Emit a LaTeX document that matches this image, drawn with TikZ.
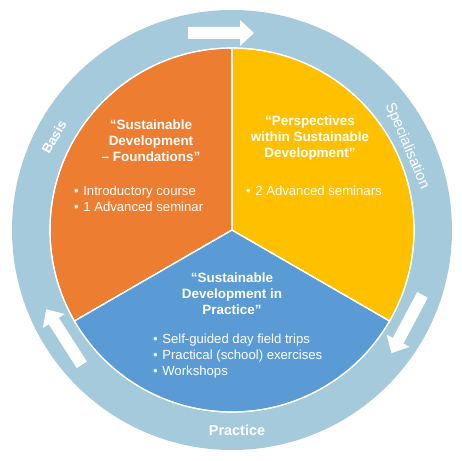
\documentclass[tikz,border=0pt]{standalone}
\usepackage{fontspec}
\setmainfont{Liberation Sans}
\usetikzlibrary{calc}

\definecolor{ringblue}{HTML}{A5CADB}
\definecolor{orangeseg}{HTML}{ED7D31}
\definecolor{yellowseg}{HTML}{FFC000}
\definecolor{blueseg}{HTML}{5B9BD5}

\begin{document}
\begin{tikzpicture}[x=1bp, y=1bp,
	title/.style={text=white, font=\fontsize{13.5}{16}\selectfont\bfseries, align=center},
	items/.style={text=white, font=\fontsize{13.2}{15.7}\selectfont, align=left, anchor=west, inner sep=0pt},
	ringlabel/.style={text=white, font=\fontsize{13.5}{15}\selectfont\bfseries},
	segment/.style={draw=white, line width=1.2bp}]
		\useasboundingbox (-232,-231) rectangle (229,230);

		\fill[ringblue] (0,0) circle (220);
		\fill[segment, fill=orangeseg] (0,0) -- (90:182) arc (90:210:182) -- cycle;
		\fill[segment, fill=blueseg] (0,0) -- (210:182) arc (210:330:182) -- cycle;
		\fill[segment, fill=yellowseg] (0,0) -- (330:182) arc (330:450:182) -- cycle;
		\draw[segment] (0,0) -- (90:182) (0,0) -- (210:182) (0,0) -- (330:182);
		\draw[segment] (0,0) circle (182);

		\foreach \px/\py/\dir in {-11/197/0, 175/-94/-118, -168/-107/122.7}
			\fill[white, shift={(\px,\py)}, rotate=\dir]
				(-33,-6) -- (19,-6) -- (19,-13) -- (33,0) -- (19,13) -- (19,6) -- (-33,6) -- cycle;

		\path (-81,89) node[title] (foundtitle) {“Sustainable\\Development\\– Foundations”}
			(-158,31) node[items] (founditems) {•\hspace{4.5bp}Introductory course\\•\hspace{4.5bp}1 Advanced seminar}
			(78,92) node[title] (perstitle) {“Perspectives\\within Sustainable\\Development”}
			(14,39) node[items] (persitems) {•\hspace{4.5bp}2 Advanced seminars}
			(0,-64) node[title] (practitle) {“Sustainable\\Development in\\Practice”}
			(-79,-126) node[items] (pracitems) {•\hspace{4.5bp}Self-guided day field trips\\•\hspace{4.5bp}Practical (school) exercises\\•\hspace{4.5bp}Workshops};

		\path (-178,93) node[ringlabel, rotate=60] (basis) {Basis}
			(175,84) node[ringlabel, font=\fontsize{15}{16}\selectfont, rotate=-67] (special) {Specialisation}
			(5,-200) node[ringlabel, font=\fontsize{14.5}{15}\selectfont\bfseries] (practice) {Practice};
	\end{tikzpicture}
\end{document}
